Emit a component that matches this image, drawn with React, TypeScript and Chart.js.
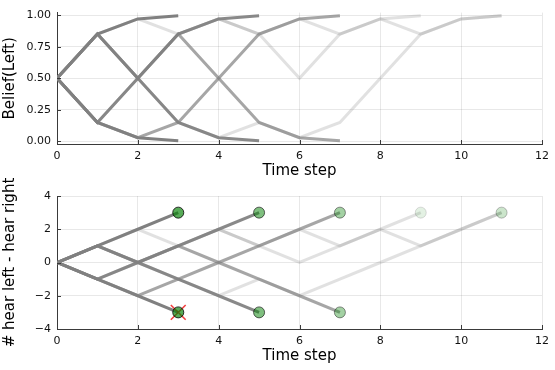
import React, { useEffect, useRef } from "react";
import { Chart, registerables } from "chart.js";

Chart.register(...registerables);

// ---- data ----
const TIME_TICKS = [0, 2, 4, 6, 8, 10, 12];
const TIME_TICK_LABELS = ["0", "2", "4", "6", "8", "10", "12"];
const BELIEF_TICKS = [0, 0.25, 0.5, 0.75, 1];
const BELIEF_TICK_LABELS = ["0.00", "0.25", "0.50", "0.75", "1.00"];
const COUNT_TICKS = [-4, -2, 0, 2, 4];
const COUNT_TICK_LABELS = ["\u22124", "\u22122", "0", "2", "4"];

// difference (# hear left - # hear right) at each time step, per trajectory
const countsA = [0, 1, 2, 3];
const countsB = [0, -1, -2, -3];
const countsC = [0, 1, 0, -1, -2, -3];
const countsD = [0, -1, 0, 1, 2, 3];
const countsE = [0, 1, 0, 1, 0, -1, -2, -3];
const countsF = [0, -1, -2, -1, 0, 1, 2, 3];
const countsG = [0, -1, 0, 1, 2, 1, 0, 1, 2, 3];
const countsH = [0, 1, 0, -1, -2, -1, -2, -1, 0, 1, 2, 3];
const countsI = [0, 1, 2, 1, 2, 1, 2, 1, 2, 1, 2, 3];

// belief that the tiger is on the left, per trajectory
const beliefA = [0.5, 0.85, 0.97, 0.995];
const beliefB = [0.5, 0.15, 0.03, 0.005];
const beliefC = [0.5, 0.85, 0.5, 0.15, 0.03, 0.005];
const beliefD = [0.5, 0.15, 0.5, 0.85, 0.97, 0.995];
const beliefE = [0.5, 0.85, 0.5, 0.85, 0.5, 0.15, 0.03, 0.005];
const beliefF = [0.5, 0.15, 0.03, 0.15, 0.5, 0.85, 0.97, 0.995];
const beliefG = [0.5, 0.15, 0.5, 0.85, 0.97, 0.85, 0.5, 0.85, 0.97, 0.995];
const beliefH = [0.5, 0.85, 0.5, 0.15, 0.03, 0.15, 0.03, 0.15, 0.5, 0.85, 0.97, 0.995];
const beliefI = [0.5, 0.85, 0.97, 0.85, 0.97, 0.85, 0.97, 0.85, 0.97, 0.85, 0.97, 0.995];

const COUNT_SERIES = [countsA, countsB, countsC, countsD, countsE, countsF, countsG, countsH, countsI];
const BELIEF_SERIES = [beliefA, beliefB, beliefC, beliefD, beliefE, beliefF, beliefG, beliefH, beliefI];
const LINE_ALPHAS = [1, 1, 0.93, 0.93, 0.7, 0.7, 0.24, 0.24, 0.24];
const MARKER_ALPHAS = [0.66, 0.66, 0.5, 0.5, 0.36, 0.36, 0.11, 0.11, 0.11];
const WRONG_DOOR = [false, true, false, false, false, false, false, false, false];

// ---- styling ----
const FONT = "DejaVu Sans";
const GRID = "rgba(0,0,0,0.09)";
const AXIS = "#3a3a3a";
const BOTTOM_CANVAS_TOP = 160;

const innerTicks = {
  id: "innerTicks",
  afterDraw(chart: any) {
    const { ctx, chartArea } = chart;
    const xs = chart.scales.x;
    const ys = chart.scales.y;
    ctx.save();
    ctx.strokeStyle = AXIS;
    ctx.lineWidth = 1;
    xs.ticks.forEach((t: any) => {
      const px = Math.round(xs.getPixelForValue(t.value)) + 0.5;
      ctx.beginPath();
      ctx.moveTo(px, chartArea.bottom);
      ctx.lineTo(px, chartArea.bottom - 4);
      ctx.stroke();
    });
    ys.ticks.forEach((t: any) => {
      const py = Math.round(ys.getPixelForValue(t.value)) + 0.5;
      ctx.beginPath();
      ctx.moveTo(chartArea.left, py);
      ctx.lineTo(chartArea.left + 4, py);
      ctx.stroke();
    });
    ctx.restore();
  },
};

function lineDatasets(series: number[][]) {
  return series.map((vals, i) => ({
    data: vals.map((v, t) => ({ x: t, y: v })),
    borderColor: `rgba(128,128,128,${LINE_ALPHAS[i]})`,
    borderWidth: 3,
    pointRadius: 0,
    fill: false,
    tension: 0,
    order: 3,
  }));
}

function makeOptions(opts: {
  top: number;
  yMin: number;
  yMax: number;
  yTicks: number[];
  yLabels: string[];
  yTitle: string;
}): any {
  return {
    animation: false,
    responsive: false,
    maintainAspectRatio: false,
    events: [],
    layout: { padding: { left: 0, right: 11, top: opts.top, bottom: 0 } },
    plugins: { legend: { display: false }, tooltip: { enabled: false } },
    scales: {
      x: {
        type: "linear",
        min: 0,
        max: 12,
        afterBuildTicks: (s: any) => {
          s.ticks = TIME_TICKS.map((v) => ({ value: v }));
        },
        afterFit: (s: any) => {
          s.height = 41;
        },
        grid: { color: GRID, lineWidth: 1, drawTicks: false },
        border: { color: AXIS, width: 1 },
        ticks: {
          padding: 6,
          color: "#111",
          font: { family: FONT, size: 11 },
          maxRotation: 0,
          autoSkip: false,
          callback: (_v: any, i: number) => TIME_TICK_LABELS[i],
        },
        title: {
          display: true,
          text: "Time step",
          color: "#000",
          font: { family: FONT, size: 15 },
          padding: { top: 0, bottom: 4.5 },
        },
      },
      y: {
        type: "linear",
        min: opts.yMin,
        max: opts.yMax,
        afterBuildTicks: (s: any) => {
          s.ticks = opts.yTicks.map((v) => ({ value: v }));
        },
        afterFit: (s: any) => {
          s.width = 57;
        },
        grid: { color: GRID, lineWidth: 1, drawTicks: false },
        border: { color: AXIS, width: 1 },
        ticks: {
          padding: 6,
          color: "#111",
          font: { family: FONT, size: 11 },
          autoSkip: false,
          callback: (_v: any, i: number) => opts.yLabels[i],
        },
        title: {
          display: true,
          text: opts.yTitle,
          color: "#000",
          font: { family: FONT, size: 15 },
          padding: { top: 1.5, bottom: 0 },
        },
      },
    },
  };
}

export default function App() {
  const topRef = useRef<HTMLCanvasElement | null>(null);
  const botRef = useRef<HTMLCanvasElement | null>(null);

  useEffect(() => {
    const topChart = new Chart(topRef.current as HTMLCanvasElement, {
      type: "line",
      data: { datasets: lineDatasets(BELIEF_SERIES) as any },
      options: makeOptions({
        top: 12,
        yMin: -0.02,
        yMax: 1.02,
        yTicks: BELIEF_TICKS,
        yLabels: BELIEF_TICK_LABELS,
        yTitle: "Belief(Left)",
      }),
      plugins: [innerTicks],
    });

    const ends = COUNT_SERIES.map((vals) => ({ x: vals.length - 1, y: vals[vals.length - 1] }));
    const crossPts = ends.filter((_, i) => WRONG_DOOR[i]);

    const botChart = new Chart(botRef.current as HTMLCanvasElement, {
      type: "line",
      data: {
        datasets: [
          {
            data: ends,
            showLine: false,
            pointRadius: 5.5,
            pointBorderWidth: 1,
            pointBackgroundColor: MARKER_ALPHAS.map((a) => `rgba(0,128,0,${a})`),
            pointBorderColor: MARKER_ALPHAS.map((a) => `rgba(0,0,0,${Math.min(1, a * 1.2)})`),
            order: 0,
          },
          {
            data: crossPts,
            showLine: false,
            pointStyle: "crossRot",
            pointRadius: 10.5,
            pointBorderWidth: 1.6,
            pointBorderColor: "rgba(240,30,30,0.85)",
            order: 1,
          },
          ...(lineDatasets(COUNT_SERIES) as any),
        ] as any,
      },
      options: makeOptions({
        top: 196 - BOTTOM_CANVAS_TOP,
        yMin: -4,
        yMax: 4,
        yTicks: COUNT_TICKS,
        yLabels: COUNT_TICK_LABELS,
        yTitle: "# hear left - hear right",
      }),
      plugins: [innerTicks],
    });

    return () => {
      topChart.destroy();
      botChart.destroy();
    };
  }, []);

  return (
    <div
      style={{
        position: "absolute",
        left: 0,
        top: 0,
        width: 555,
        height: 370,
        background: "#fff",
      }}
    >
      <canvas
        ref={topRef}
        width={555}
        height={185}
        style={{ position: "absolute", left: 0, top: 0, width: 555, height: 185 }}
      />
      <canvas
        ref={botRef}
        width={555}
        height={370 - BOTTOM_CANVAS_TOP}
        style={{
          position: "absolute",
          left: 0,
          top: BOTTOM_CANVAS_TOP,
          width: 555,
          height: 370 - BOTTOM_CANVAS_TOP,
        }}
      />
    </div>
  );
}
